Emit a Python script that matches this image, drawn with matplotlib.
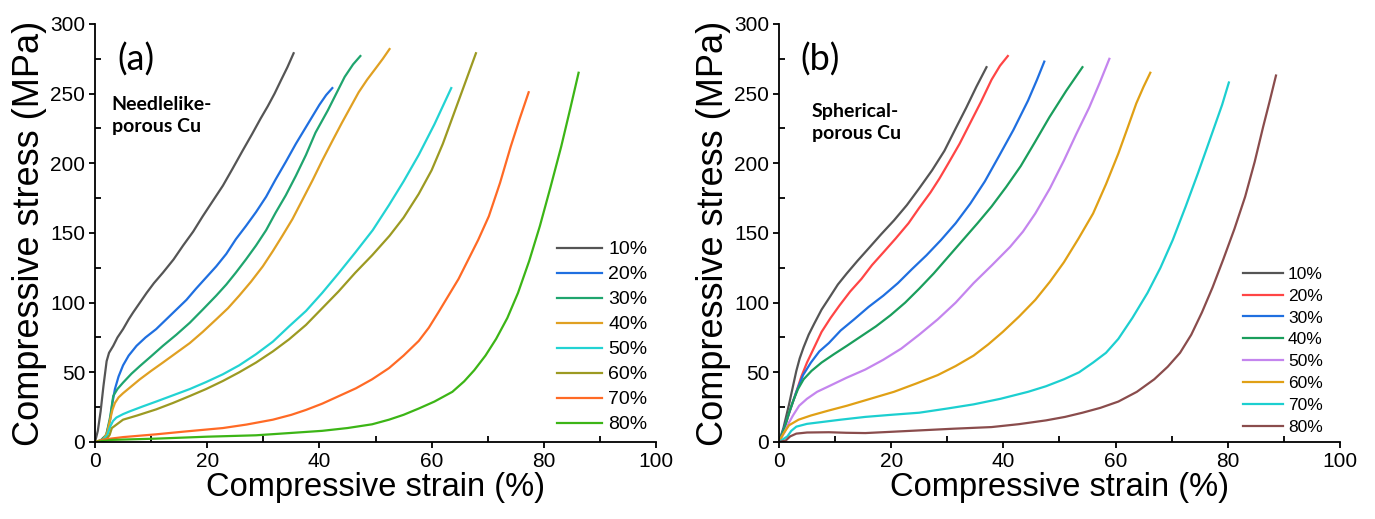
import numpy as np
import matplotlib
matplotlib.use("Agg")
import matplotlib.pyplot as plt
from matplotlib.ticker import MultipleLocator

plt.rcParams['font.family'] = ['Liberation Sans', 'DejaVu Sans']

labels = ["10%", "20%", "30%", "40%", "50%", "60%", "70%", "80%"]

# (a) needlelike-porous Cu : strain (%), stress (MPa)
a_strain = [
    [0, 0.5, 1.0, 1.5, 2.07, 2.5, 3.25, 4, 5, 6, 6.8, 8, 9.2, 10.5, 12.1, 14, 15.7,
     17.5, 19.2, 21, 22.8, 24.5, 26.3, 28, 29.5, 30.8, 32, 33.2, 34.3, 35.4],
    [0, 1, 2, 2.7, 3.1, 3.55, 4.2, 5, 6, 7.4, 9, 10.9, 12.7, 14.5, 16.3, 18, 19.8,
     21.6, 23.4, 25.1, 26.9, 28.7, 30.5, 32.2, 34, 35.8, 37.9, 40, 41.2, 42.3],
    [0, 1, 2, 2.7, 3.25, 4, 5, 6.5, 8, 10, 12.1, 14.5, 16.9, 19.2, 21.6, 23.4, 25.1,
     26.9, 28.7, 30.5, 32.2, 34, 35.8, 37.6, 39.3, 41.5, 43, 44.5, 46, 47.3],
    [0, 1.5, 2.2, 2.7, 3.1, 3.55, 4.2, 5, 6.5, 8, 10, 12.1, 14.5, 16.9, 19.2, 21.6,
     23.7, 25.7, 27.8, 29.9, 31.7, 33.4, 35.2, 37, 38.8, 40.5, 42.3, 44, 45.5, 47,
     48.5, 50, 51.3, 52.5],
    [0, 1.5, 2.2, 2.7, 3.2, 3.8, 5, 6.2, 8.5, 10.9, 13.9, 16.9, 19.8, 22.8, 25.7,
     28.7, 31.7, 34.6, 37.6, 40.5, 43.4, 46.4, 49.5, 52.4, 55, 57.7, 60.5, 62, 63.5],
    [0, 2, 2.6, 3, 4, 5, 7.5, 10.9, 13.9, 16.9, 19.8, 22.8, 25.7, 28.7, 31.7, 34.6,
     37.6, 40.5, 43.4, 46.4, 49.4, 52.5, 55, 57.7, 60, 62, 64, 66, 67.9],
    [0, 2, 5, 10.9, 16, 22.8, 27, 31.7, 35, 37.6, 40.5, 43.5, 46.5, 49.4, 52.4, 55,
     57.7, 59.5, 61.2, 63, 64.8, 66.3, 68.3, 70.2, 72.2, 74.1, 75.7, 77.3],
    [0, 3, 10.9, 20, 28.7, 35, 40.5, 45, 49.4, 52.4, 55, 57.7, 60.5, 63.7, 65.8,
     67.6, 69.6, 71.5, 73.5, 75.4, 77.4, 79.3, 81.2, 83.1, 84.7, 86.2],
]
a_stress = [
    [0, 8, 22, 40, 58, 64, 69, 75, 81, 88, 93, 100, 107, 114, 121.5, 131, 141,
     151, 162, 173, 184, 196, 209, 221, 232, 241, 250, 260, 269, 279],
    [0, 1, 5, 16, 28, 38, 47, 55, 62, 69, 75, 81, 88, 95, 102, 110, 118,
     126, 135, 145.5, 155, 165, 176, 188.5, 201, 214, 228, 242, 249, 254],
    [0, 1, 5, 18, 33, 38, 42.6, 49, 54.5, 61.5, 69, 77, 85.6, 95, 105, 113, 121.5,
     131, 141, 152, 164.6, 177, 191, 206, 222, 238, 250, 262, 271, 277],
    [0, 2, 7, 16, 23, 28, 32, 35, 40, 45, 51, 57, 64, 71, 79, 88,
     96, 105, 115, 126, 137, 148, 160, 174, 188, 202, 216, 229, 240, 251,
     260, 268, 275, 282],
    [0, 1.5, 5, 11, 15, 17.5, 20, 22, 25.5, 29, 33.5, 38, 43, 48.6, 55,
     63, 72, 83, 94, 107, 121, 136, 152, 170, 187, 206, 228, 241, 254],
    [0, 2, 5, 10, 13, 16, 19, 23.4, 28, 33, 38, 43.8, 50, 57, 65, 73.7,
     84, 96, 108, 121.5, 134, 148, 161, 178, 195, 214, 236, 258, 279],
    [0, 2, 3.5, 5.5, 7.5, 10, 12.5, 16, 19.5, 23, 27.5, 33, 38.5, 45, 53, 62,
     72.5, 82, 93, 105, 117, 129, 145, 162, 186, 212, 232, 251],
    [0, 1.5, 2.4, 3.8, 4.8, 6.5, 8, 10, 12.7, 16, 19.5, 24, 29, 36, 43.5,
     51.5, 62, 74, 89, 107, 130, 155, 183, 212, 239, 265],
]
a_colors = ["#555555", "#1f6fe0", "#1fa56e", "#e0a022", "#22d3d3",
            "#9c9a22", "#ff6a25", "#3cb516"]

# (b) spherical-porous Cu
b_strain = [
    [0, 0.8, 1.8, 2.5, 3.1, 3.7, 4.4, 5.3, 6.3, 7.6, 8.9, 10.5, 12.1, 14, 16, 18.2,
     20.5, 22.8, 25, 27.3, 29.5, 31.5, 33.4, 35.2, 37],
    [0, 1, 2, 3.1, 4, 5, 6.3, 7.6, 9.2, 10.8, 12.7, 14.7, 16.6, 18.6, 20.8, 23.1,
     25, 27, 28.6, 30.2, 32.2, 34.1, 36, 37.9, 39.4, 40.8],
    [0, 1, 2, 3.1, 4.3, 5.7, 7.2, 8.9, 11, 13.4, 16, 18.6, 21.2, 23.7, 26.3, 28.9,
     31.5, 34.1, 36.7, 39.2, 41.8, 44.4, 46, 47.3],
    [0, 1, 1.8, 2.5, 3.4, 4.4, 5.8, 7.6, 9.8, 12.1, 14.7, 17.3, 19.9, 22.5, 25,
     27.6, 30.2, 32.8, 35.4, 37.9, 40.5, 43.1, 45.6, 48.2, 51.2, 54.1],
    [0, 1, 1.8, 2.5, 3.6, 5, 6.8, 8.9, 12, 15.4, 18.6, 21.8, 25, 28.3, 31.5, 34.7,
     38, 41.2, 43.5, 45.7, 48.3, 50.8, 53, 55.3, 57.2, 58.9],
    [0, 0.8, 1.8, 3.5, 5.7, 8.8, 12.1, 16.3, 20.5, 24.5, 28.3, 31.5, 34.7, 37.3,
     39.9, 42.8, 45.7, 48.3, 50.8, 53.4, 56, 58.3, 60.5, 62.2, 63.7, 65, 66.2],
    [0, 1.5, 2.2, 3.1, 5, 7, 11, 15.4, 20, 25, 30, 34.7, 39.5, 44.4, 47.6, 50.8,
     53.5, 56, 58.3, 60.5, 63, 65.7, 68, 70.2, 72.5, 74.7, 76.2, 77.6, 79, 80.2],
    [0, 1.2, 2, 3.1, 5, 8.9, 12, 15.4, 20, 25, 31, 37.9, 42.8, 47.6, 51, 54.1,
     57.3, 60.5, 63.8, 66.9, 69.3, 71.5, 73.5, 75.4, 77.3, 79.2, 81.2, 83.1,
     84.8, 86.3, 87.5, 88.6],
]
b_stress = [
    [0, 10, 27, 40, 51, 60, 68, 77, 85, 95, 103, 113, 121, 130, 139, 149,
     159, 170, 182, 195, 209, 225, 240, 255, 269],
    [0, 10, 23, 36, 47, 57, 68, 79, 89, 98, 108, 117, 127, 136, 146, 157,
     168, 179, 189, 200, 214, 229, 244, 260, 270, 277],
    [0, 11, 23, 36, 48, 57, 65, 71, 80, 88, 97, 105, 114, 124, 134, 145,
     157, 171, 187, 205, 224, 245, 260, 273],
    [0, 10, 21, 29, 38, 45, 51, 57, 63, 69, 76, 83, 91, 100, 110,
     121, 133, 145, 157, 169, 183, 198, 215, 233, 252, 269],
    [0, 7, 14, 19, 26, 31, 36, 40, 46, 52, 59, 67, 77, 88, 100, 114,
     127, 140, 151, 164, 182, 202, 221, 240, 258, 275],
    [0, 6, 12, 16, 19, 22.5, 26, 31, 36, 42, 48, 54.5, 62, 70,
     79, 90, 102, 115, 129, 146, 164, 185, 207, 226, 243, 255, 265],
    [0, 4, 8, 11, 13, 14, 16, 18, 19.5, 21, 24, 27, 31, 36, 40, 45,
     50, 57, 64, 74, 89, 107, 125, 145, 169, 193, 210, 226, 242, 258],
    [0, 1, 4, 6, 6.8, 7, 6.6, 6.4, 7.3, 8.3, 9.5, 10.7, 12.8, 15.5, 18, 21,
     24.5, 29, 36, 45, 54, 64, 77, 93, 111, 131, 153, 176,
     201, 226, 245, 263],
]
b_colors = ["#555555", "#ff4545", "#1f6fe0", "#1a9e5c", "#c485ee",
            "#e0a015", "#1ccfd0", "#8a4c4c"]

fig = plt.figure(figsize=(13.75, 5.19), dpi=100)
ax_a = fig.add_axes([0.0691, 0.1484, 0.408, 0.8054])
ax_b = fig.add_axes([0.5665, 0.1484, 0.408, 0.8054])


def style(ax):
    ax.set_xlim(0, 100)
    ax.set_ylim(0, 300)
    for s in ["top", "right"]:
        ax.spines[s].set_visible(False)
    for s in ["left", "bottom"]:
        ax.spines[s].set_linewidth(1.3)
    ax.xaxis.set_major_locator(MultipleLocator(20))
    ax.xaxis.set_minor_locator(MultipleLocator(10))
    ax.yaxis.set_major_locator(MultipleLocator(50))
    ax.yaxis.set_minor_locator(MultipleLocator(25))
    ax.tick_params(which="major", direction="out", length=4, width=1.3,
                   labelsize=15, pad=3)
    ax.tick_params(which="minor", direction="in", length=4, width=1.3)
    ax.set_xlabel("Compressive strain (%)", fontsize=23.5, labelpad=1)
    ax.set_ylabel("Compressive stress (MPa)", fontsize=26, labelpad=2)


for xs, ys, c, lab in zip(a_strain, a_stress, a_colors, labels):
    ax_a.plot(xs, ys, color=c, lw=1.6, label=lab)
for xs, ys, c, lab in zip(b_strain, b_stress, b_colors, labels):
    ax_b.plot(xs, ys, color=c, lw=1.6, label=lab)

style(ax_a)
style(ax_b)

ax_a.text(3.9, 287, "(a)", fontsize=26, family="Lato", va="top")
ax_b.text(3.9, 287, "(b)", fontsize=26, family="Lato", va="top")
ax_a.text(3.0, 248, "Needlelike-\nporous Cu", fontsize=14, family="Lato",
          fontweight="bold", va="top", linespacing=1.35)
ax_b.text(5.9, 243, "Spherical-\nporous Cu", fontsize=14, family="Lato",
          fontweight="bold", va="top", linespacing=1.35)

ax_a.legend(loc="center left", bbox_to_anchor=(0.823, 0.251), frameon=False,
            fontsize=14, handlelength=2.35, handletextpad=0.3,
            labelspacing=0.38, borderpad=0, borderaxespad=0)
ax_b.legend(loc="center left", bbox_to_anchor=(0.827, 0.218), frameon=False,
            fontsize=12.5, handlelength=2.3, handletextpad=0.3,
            labelspacing=0.39, borderpad=0, borderaxespad=0)

fig.savefig("out.png", dpi=100)
